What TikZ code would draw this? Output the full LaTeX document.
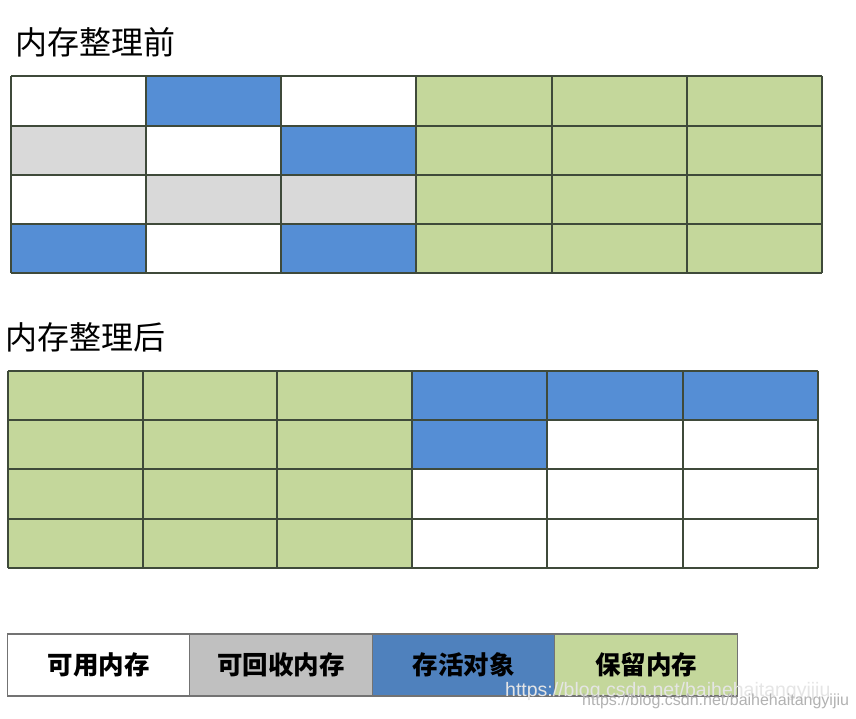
\documentclass[tikz,border=0pt]{standalone}
\usepackage{fontspec}
\setmainfont{Liberation Sans}
\newfontfamily\cjk{Noto Sans CJK SC}
\definecolor{cB}{HTML}{558ED5}
\definecolor{cG}{HTML}{C4D79B}
\definecolor{cY}{HTML}{D9D9D9}
\definecolor{cW}{HTML}{FFFFFF}
\definecolor{lgB}{HTML}{4F81BD}
\definecolor{lgY}{HTML}{C0C0C0}
\definecolor{gridc}{HTML}{3F4A3A}
\tikzset{
  gridline/.style={draw=gridc, line width=1.3pt},
  title/.style={anchor=west, font=\cjk\fontsize{32}{34}\selectfont, inner sep=0pt},
  legendbox/.style={draw=gray!90!black, line width=1.2pt, minimum height=62pt, minimum width=182.5pt, inner sep=0pt, font=\cjk\bfseries\fontsize{25.5}{27}\selectfont},
  wm/.style={anchor=west, inner sep=0pt}
}
\begin{document}
\begin{tikzpicture}[x=1pt,y=-1pt]
\useasboundingbox (0,0) rectangle (856,719);
\fill[white] (0,0) rectangle (856,719);
% titles
\node[title] (t1) at (15,42) {内存整理前};
\node[title] (t2) at (5,337) {内存整理后};
% top grid
\def\xa{{11,146,281,416,552,687,822}}
\def\ya{{76,126,175,224,273}}
\foreach \row/\cols in {0/{cW,cB,cW,cG,cG,cG},1/{cY,cW,cB,cG,cG,cG},2/{cW,cY,cY,cG,cG,cG},3/{cB,cW,cB,cG,cG,cG}}{
  \foreach \c [count=\i from 0] in \cols {
    \pgfmathsetmacro{\xl}{\xa[\i]}
    \pgfmathsetmacro{\xr}{\xa[\i+1]}
    \pgfmathsetmacro{\yt}{\ya[\row]}
    \pgfmathsetmacro{\yb}{\ya[\row+1]}
    \fill[\c] (\xl,\yt) rectangle (\xr,\yb);
  }
}
\foreach \x in {11,146,281,416,552,687,822} \draw[gridline] (\x,76) -- (\x,273);
\foreach \y in {76,126,175,224,273} \draw[gridline] (11,\y) -- (822,\y);
% bottom grid
\def\xb{{8,143,277,412,547,683,818}}
\def\yb{{371,420,469,519,568}}
\foreach \row/\cols in {0/{cG,cG,cG,cB,cB,cB},1/{cG,cG,cG,cB,cW,cW},2/{cG,cG,cG,cW,cW,cW},3/{cG,cG,cG,cW,cW,cW}}{
  \foreach \c [count=\i from 0] in \cols {
    \pgfmathsetmacro{\xl}{\xb[\i]}
    \pgfmathsetmacro{\xr}{\xb[\i+1]}
    \pgfmathsetmacro{\yt}{\yb[\row]}
    \pgfmathsetmacro{\ybb}{\yb[\row+1]}
    \fill[\c] (\xl,\yt) rectangle (\xr,\ybb);
  }
}
\foreach \x in {8,143,277,412,547,683,818} \draw[gridline] (\x,371) -- (\x,568);
\foreach \y in {371,420,469,519,568} \draw[gridline] (8,\y) -- (818,\y);
% legend
\node[legendbox, fill=white] (l1) at (98.5,665) {可用内存};
\node[legendbox, fill=lgY] (l2) at (281,665) {可回收内存};
\node[legendbox, fill=lgB] (l3) at (463.5,665) {存活对象};
\node[legendbox, fill=cG] (l4) at (646,665) {保留内存};
% watermark
\node[wm, text=white!80!gray, font=\fontsize{19.5}{21}\selectfont] (w1) at (505,691) {https://blog.csdn.net/baihehaitangyijiu};
\node[wm, text=gray!60, font=\fontsize{16}{17}\selectfont] (w2) at (582,701) {https://blog.csdn.net/baihehaitangyijiu};
\end{tikzpicture}
\end{document}
